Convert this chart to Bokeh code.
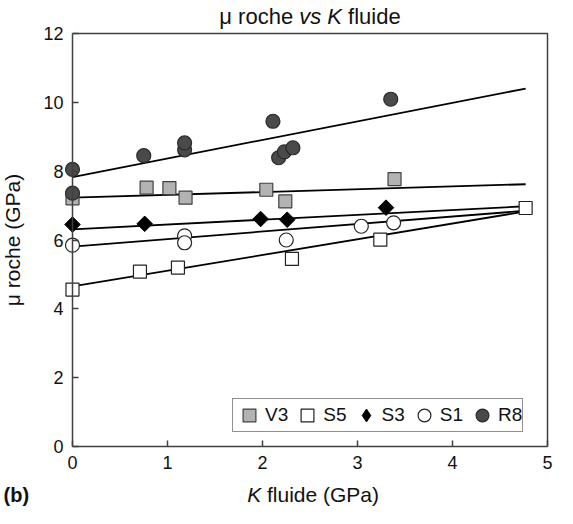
import math
from bokeh.plotting import figure
from bokeh.models import Range1d, FixedTicker, Label, Legend, LegendItem
from bokeh.embed import file_html
from bokeh.resources import INLINE

# ---- data ----
x_ticks = [0, 1, 2, 3, 4, 5]
y_ticks = [0, 2, 4, 6, 8, 10, 12]

v3_x = [0.0, 0.78, 1.02, 1.19, 2.04, 2.24, 3.39]
v3_y = [7.21, 7.52, 7.51, 7.23, 7.46, 7.12, 7.77]
s5_x = [0.0, 0.71, 1.11, 2.31, 3.24, 4.77]
s5_y = [4.56, 5.08, 5.20, 5.45, 6.01, 6.93]
s3_x = [0.0, 0.76, 1.98, 2.26, 3.30]
s3_y = [6.45, 6.47, 6.61, 6.59, 6.94]
s1_x = [0.0, 1.18, 1.18, 2.25, 3.04, 3.38]
s1_y = [5.85, 6.12, 5.92, 6.00, 6.40, 6.50]
r8_x = [0.0, 0.0, 0.75, 1.18, 1.18, 2.11, 2.17, 2.23, 2.32, 3.35]
r8_y = [8.05, 7.36, 8.45, 8.62, 8.82, 9.45, 8.39, 8.56, 8.68, 10.09]

# trend lines (end points)
fit_x = [0.0, 4.77]
v3_fit = [7.23, 7.62]
s5_fit = [4.65, 6.83]
s3_fit = [6.31, 6.98]
s1_fit = [5.81, 6.85]
r8_fit = [7.83, 10.40]

FONT = "Liberation Sans"
AX = "#404040"

# ---- layout (canvas pixels) ----
W, H = 557, 508
BOX_L, BOX_R, BOX_T, BOX_B = 72, 547, 33, 446   # where the data box sits on the canvas
x_lo, x_hi = x_ticks[0], x_ticks[-1]
y_lo, y_hi = y_ticks[0], y_ticks[-1]
kx = (BOX_R - BOX_L) / (x_hi - x_lo)
ky = (BOX_B - BOX_T) / (y_hi - y_lo)
x_range = Range1d(x_lo - BOX_L / kx, x_hi + (W - BOX_R) / kx)
y_range = Range1d(y_lo - (H - BOX_B) / ky, y_hi + BOX_T / ky)

p = figure(width=W, height=H, x_range=x_range, y_range=y_range,
           output_backend="svg", toolbar_location=None, min_border=0)
p.background_fill_color = "white"
p.border_fill_color = "white"
p.xgrid.grid_line_color = None
p.ygrid.grid_line_color = None
p.outline_line_color = None

p.xaxis.ticker = FixedTicker(ticks=x_ticks)
p.yaxis.ticker = FixedTicker(ticks=y_ticks)
p.xaxis.fixed_location = y_lo
p.yaxis.fixed_location = x_lo
p.xaxis.bounds = (x_lo, x_hi)
p.yaxis.bounds = (y_lo, y_hi)
for ax in (p.xaxis[0], p.yaxis[0]):
    ax.axis_line_color = AX
    ax.axis_line_width = 1.5
    ax.major_tick_line_color = AX
    ax.major_tick_line_width = 1.5
    ax.major_tick_in = 6
    ax.major_tick_out = 0
    ax.minor_tick_line_color = None
    ax.major_label_text_font = FONT
    ax.major_label_text_font_size = "18px"
    ax.major_label_text_color = "#111111"
    ax.major_label_standoff = 9

# top and right sides of the box
p.line([x_lo, x_hi, x_hi], [y_hi, y_hi, y_lo], line_color=AX, line_width=1.5)

# trend lines
for fy in (r8_fit, v3_fit, s3_fit, s1_fit, s5_fit):
    p.line(fit_x, fy, line_color="black", line_width=1.8)

# points
r_v3 = p.scatter(v3_x, v3_y, marker="square", size=13, fill_color="#b3b3b3",
                 line_color="#404040", line_width=1.2)
r_s5 = p.scatter(s5_x, s5_y, marker="square", size=13, fill_color="white",
                 line_color="#222222", line_width=1.2)
# diamond glyph (hidden beneath the rotated squares) that gives the legend its symbol
r_s3_leg = p.scatter(s3_x, s3_y, marker="diamond", size=13, fill_color="black",
                     line_color="black", line_width=1.0)
r_s3 = p.scatter(s3_x, s3_y, marker="square", angle=math.pi / 4, size=11,
                 fill_color="black", line_color="black", line_width=1.0)
r_s1 = p.scatter(s1_x, s1_y, marker="circle", size=14, fill_color="white",
                 line_color="#222222", line_width=1.2)
r_r8 = p.scatter(r8_x, r8_y, marker="circle", size=14, fill_color="#4a4a4a",
                 line_color="#2a2a2a", line_width=1.2)

legend = Legend(items=[
    LegendItem(label="V3", renderers=[r_v3]),
    LegendItem(label="S5", renderers=[r_s5]),
    LegendItem(label="S3", renderers=[r_s3_leg]),
    LegendItem(label="S1", renderers=[r_s1]),
    LegendItem(label="R8", renderers=[r_r8]),
], orientation="horizontal", location=(232, 76))
legend.margin = 0
legend.padding = 0
legend.spacing = 3
legend.glyph_width = 32
legend.glyph_height = 32
legend.label_standoff = 0
legend.label_text_font = FONT
legend.label_text_font_size = "19px"
legend.label_text_color = "#111111"
legend.border_line_color = "#222222"
legend.border_line_width = 1.2
legend.background_fill_color = "white"
legend.background_fill_alpha = 1.0
p.add_layout(legend, "center")


def lab(text, x, y, size, style="normal", **kw):
    p.add_layout(Label(x=x, y=y, x_units="screen", y_units="screen", text=text,
                       text_font=FONT, text_font_size=f"{size}px",
                       text_font_style=style, text_color="#111111",
                       text_baseline="alphabetic", **kw))


# title: "μ roche vs K fluide" (vs and K in italics)
ty = 492
lab("μ roche", 218.8, ty, 22)
lab("vs", 298.7, ty, 22, "italic")
lab("K", 326.8, ty, 22, "italic")
lab("fluide", 347.6, ty, 22)

# x axis label: "K fluide (GPa)"
lab("K", 246.7, 14, 21, "italic")
lab("fluide (GPa)", 266.5, 14, 21)

# y axis label
lab("μ roche (GPa)", 12, 268.5, 21, angle=math.pi / 2, text_align="center")

# panel letter
lab("(b)", 3, 14, 20, "bold")

open("out.html", "w").write(file_html(p, INLINE))
